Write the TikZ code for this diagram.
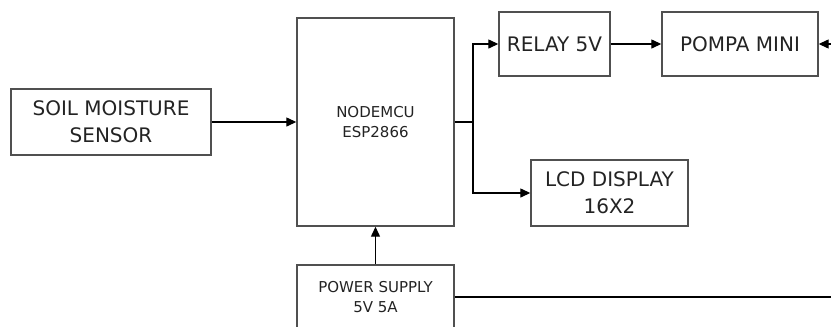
\documentclass[tikz,border=0pt]{standalone}
\usepackage{fontspec}
\setmainfont{DejaVu Sans}
\usepackage{xcolor}
\usetikzlibrary{calc,arrows.meta,positioning}
\definecolor{edge}{RGB}{80,80,80}
\definecolor{ink}{RGB}{35,35,35}

\begin{document}
\begin{tikzpicture}[x=1pt,y=-1pt,
      every node/.style={font=\fontsize{20}{27}\selectfont,text=ink},
      blk/.style={draw=edge,line width=1.4pt,inner sep=0pt,align=center},
      sm/.style={font=\fontsize{15}{20}\selectfont},
      >={Triangle[length=10pt,width=9pt]},line width=1.3pt]
      \useasboundingbox (0,0) rectangle (831,327);
      \clip (0,0) rectangle (831,327);
      \node[blk,minimum width=200pt,minimum height=66pt] (soil) at (111,122) {SOIL MOISTURE\\SENSOR};
      \node[blk,sm,minimum width=157pt,minimum height=208pt] (mcu) at (375.5,122) {NODEMCU\\ESP2866};
      \node[blk,sm,minimum width=157pt,minimum height=64pt] (psu) at (375.5,297) {POWER SUPPLY\\5V 5A};
      \node[blk,minimum width=111pt,minimum height=64pt] (relay) at (554.5,44) {RELAY 5V};
      \node[blk,minimum width=156pt,minimum height=64pt] (pump) at (740,44) {POMPA MINI};
      \node[blk,minimum width=157pt,minimum height=66pt] (lcd) at (609.5,193) {LCD DISPLAY\\16X2};
      \coordinate (split) at (473,122);
      \coordinate (rail) at (850,297);
      \draw[->] (soil) -- (mcu);
      \draw[->] (psu) -- (mcu);
      \draw (mcu.east) -- (split);
      \draw[->] (split) |- (relay);
      \draw[->] (split) |- (lcd);
      \draw[->] (relay) -- (pump);
      \draw[->] (psu) -- (rail) |- (pump);
    \end{tikzpicture}
\end{document}
